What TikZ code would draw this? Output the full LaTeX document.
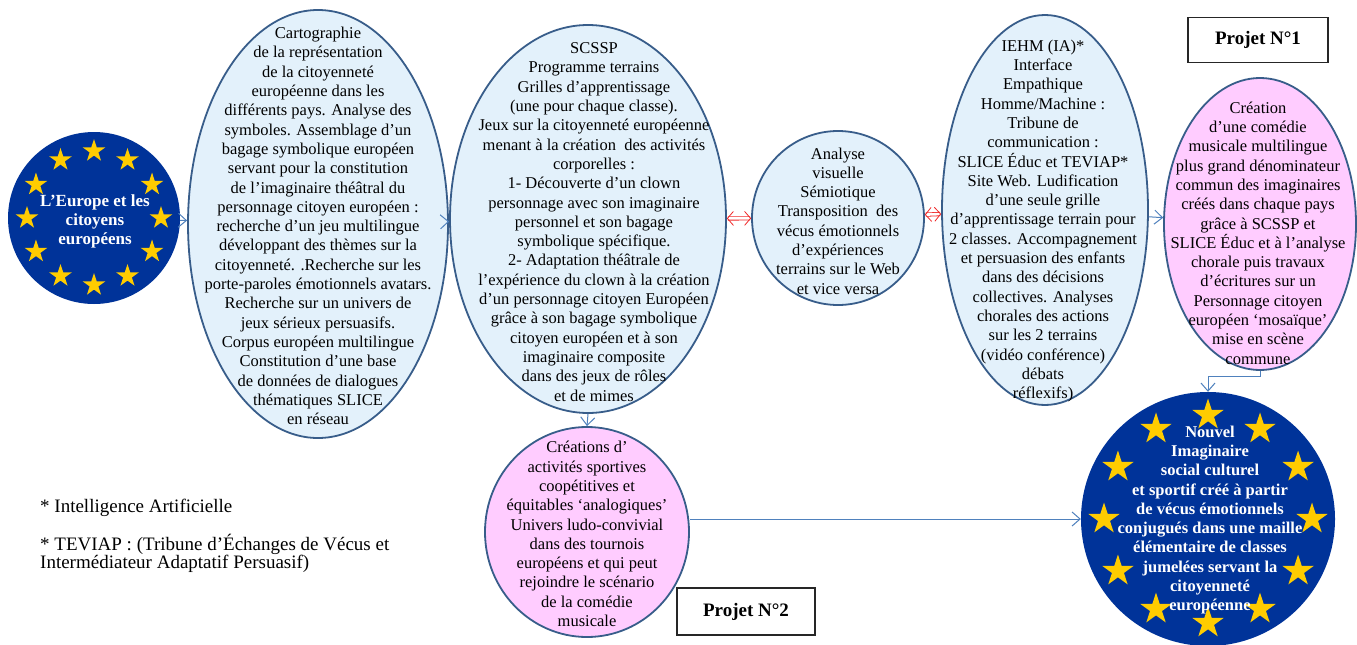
\documentclass[tikz,border=0pt]{standalone}
\usepackage{fontspec}
\setmainfont{Liberation Serif}
\usetikzlibrary{shapes.geometric,arrows.meta}
\definecolor{eublue}{RGB}{0,51,153}
\definecolor{euyellow}{RGB}{255,204,0}
\definecolor{lblue}{RGB}{227,241,251}
\definecolor{lpink}{RGB}{255,204,255}
\definecolor{edgeblue}{RGB}{56,93,138}
\definecolor{connblue}{RGB}{79,129,189}
\definecolor{redarr}{RGB}{240,40,40}
\begin{document}
\begin{tikzpicture}[x=1pt,y=-1pt,
  bubble/.style={ellipse, draw=edgeblue, line width=1.8pt, inner sep=0pt},
  bluebub/.style={bubble, fill=lblue},
  pinkbub/.style={bubble, fill=lpink},
  txt/.style={align=center, inner sep=0pt, font=\fontsize{16.5}{19.3}\selectfont},
  eucircle/.style={circle, fill=eublue, inner sep=0pt},
  eustar/.style={star, star points=5, star point ratio=2.618, fill=euyellow, inner sep=0pt},
  eutxt/.style={align=center, inner sep=0pt, text=white, font=\bfseries\fontsize{16.5}{19.3}\selectfont},
  conn/.style={draw=connblue, line width=1pt, -{Straight Barb[length=8pt,width=14pt]}},
  redlink/.style={draw=redarr, double=white, double distance=2.6pt, line width=0.8pt,
    {Straight Barb[length=6pt,width=14pt]}-{Straight Barb[length=6pt,width=14pt]}},
  projbox/.style={draw=black!85, line width=1.3pt, inner sep=0pt, font=\bfseries\fontsize{19}{22}\selectfont},
  foot/.style={anchor=west, inner sep=0pt, font=\fontsize{19}{20}\selectfont}
]
\useasboundingbox (0,0) rectangle (1357,645);
\fill[white] (0,0) rectangle (1357,645);

% left EU circle
\node[eucircle, minimum size=172pt] (eu1) at (94,218) {};
\foreach \i in {0,...,11}
  \node[eustar, minimum size=24pt] (sl\i) at ([shift={(\i*30:67)}]eu1.center) {};
\node[eutxt, font=\bfseries\fontsize{17}{19}\selectfont] (eu1t) at (95,221) {L’Europe et les\\citoyens\\européens};

% ellipses
\node[bluebub, minimum width=260pt, minimum height=428pt] (e1) at (318,224) {};
\node[bluebub, minimum width=276pt, minimum height=388pt] (e2) at (588,219) {};
\node[bluebub, minimum width=172pt, minimum height=174pt] (c3) at (838,218) {};
\node[bluebub, minimum width=206pt, minimum height=390pt] (e4) at (1045,210) {};
\node[pinkbub, minimum width=192pt, minimum height=292pt] (e5) at (1260,224) {};
\node[pinkbub, minimum width=204pt, minimum height=210pt] (cr2) at (587,532) {};

% right EU circle
\node[eucircle, minimum size=254pt] (eu2) at (1208,519) {};
\foreach \i in {0,...,11}
  \node[eustar, minimum size=33pt] (sr\i) at ([shift={(\i*30:104)}]eu2.center) {};

% texts
\node[txt] (t1) at (318,226) {Cartographie\\de la représentation\\de la citoyenneté\\européenne dans les\\différents pays. Analyse des\\symboles. Assemblage d’un\\bagage symbolique européen\\servant pour la constitution\\de l’imaginaire théâtral du\\personnage citoyen européen :\\recherche d’un jeu multilingue\\développant des thèmes sur la\\citoyenneté. .Recherche sur les\\porte-paroles émotionnels avatars.\\Recherche sur un univers de\\jeux sérieux persuasifs.\\Corpus européen multilingue\\Constitution d’une base\\de données de dialogues\\thématiques SLICE\\en réseau};
\node[txt] (t2) at (594,222) {SCSSP\\Programme terrains\\Grilles d’apprentissage\\(une pour chaque classe).\\Jeux sur la citoyenneté européenne\\menant à la création\ \ des activités\\corporelles :\\1- Découverte d’un clown\\personnage avec son imaginaire\\personnel et son bagage\\symbolique spécifique.\\2- Adaptation théâtrale de\\l’expérience du clown à la création\\d’un personnage citoyen Européen\\grâce à son bagage symbolique\\citoyen européen et à son\\imaginaire composite\\dans des jeux de rôles\\et de mimes};
\node[txt] (t3) at (838,221) {Analyse\\visuelle\\Sémiotique\\Transposition\ \ des\\vécus émotionnels\\d’expériences\\terrains sur le Web\\et vice versa};
\node[txt] (t4) at (1043,221) {IEHM (IA)*\\Interface\\Empathique\\Homme/Machine :\\Tribune de\\communication :\\SLICE Éduc et TEVIAP*\\Site Web. Ludification\\d’une seule grille\\d’apprentissage terrain pour\\2 classes. Accompagnement\\et persuasion des enfants\\dans des décisions\\collectives. Analyses\\chorales des actions\\sur les 2 terrains\\(vidéo conférence)\\débats\\réflexifs)};
\node[txt] (t5) at (1258,233) {Création\\d’une comédie\\musicale multilingue\\plus grand dénominateur\\commun des imaginaires\\créés dans chaque pays\\grâce à SCSSP et\\SLICE Éduc et à l’analyse\\chorale puis travaux\\d’écritures sur un\\Personnage citoyen\\européen ‘mosaïque’\\mise en scène\\commune};
\node[txt] (t6) at (587,534) {Créations d’\\activités sportives\\coopétitives et\\équitables ‘analogiques’\\Univers ludo-convivial\\dans des tournois\\européens et qui peut\\rejoindre le scénario\\de la comédie\\musicale};
\node[eutxt] (t7) at (1210,520) {Nouvel\\Imaginaire\\social culturel\\et sportif créé à partir\\de vécus émotionnels\\conjugués dans une maille\\élémentaire de classes\\jumelées servant la\\citoyenneté\\européenne};

% project boxes
\node[projbox, minimum width=140pt, minimum height=45pt] (p1) at (1258,40) {Projet N°1};
\node[projbox, minimum width=138pt, minimum height=47pt] (p2) at (746,611.5) {Projet N°2};

% footnotes
\node[foot] (f1) at (40,508) {* Intelligence Artificielle};
\node[foot] (f2) at (40,544) {* TEVIAP : (Tribune d’Échanges de Vécus et};
\node[foot] (f3) at (40,564) {Intermédiateur Adaptatif Persuasif)};

% connectors
\draw[conn] (eu1) -- (e1);
\draw[conn] (e1) -- (e2);
\draw[redlink] (e2) -- (c3);
\draw[redlink] (c3) -- (e4);
\draw[conn] (e4) -- (e5);
\draw[conn] (e5.south) -- ++(0,6) -| (eu2.north);
\draw[conn] (e2.south) -- (cr2.north);
\draw[conn] (cr2.east |- eu2.west) -- (eu2.west);
\end{tikzpicture}
\end{document}
